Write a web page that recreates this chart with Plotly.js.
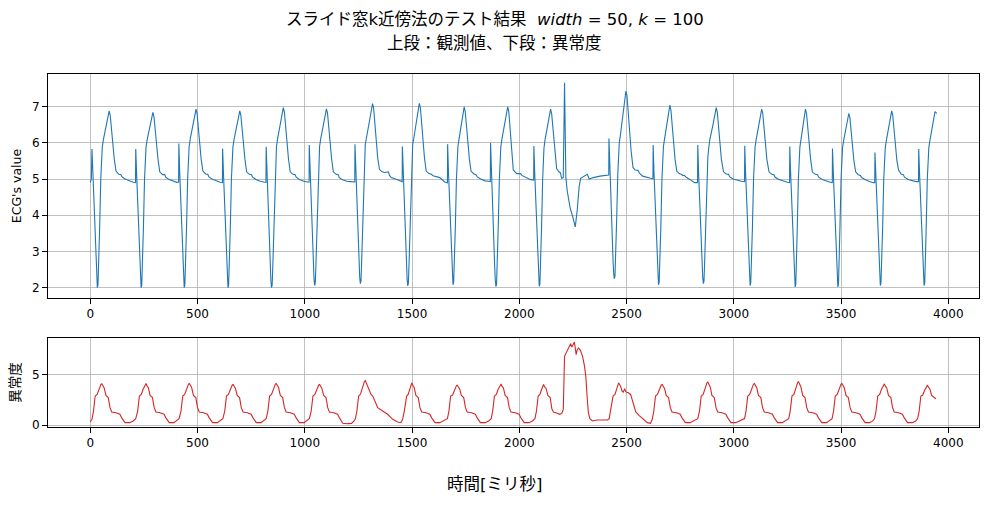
<!DOCTYPE html>
<html>
<head>
<meta charset="utf-8">
<script src="https://cdn.plot.ly/plotly-3.0.1.min.js"></script>
<style>html,body{margin:0;padding:0;background:#fff;}#chart{width:989px;height:505px;}</style>
</head>
<body>
<div id="chart"></div>
<script>
// ECG observed values (time in ms, value)
const ecgTime = [
0,5,8,12,17,22,27,30,33,36,39,44,49,52,56,61,75,88,93,98,105,112,120,133,143,148,163,183,200,211,
212,216,221,226,231,234,237,240,243,248,253,256,260,265,279,292,297,302,309,316,324,337,347,352,367,387,404,412,
413,417,422,427,432,435,438,441,444,449,454,457,461,466,480,493,498,503,510,517,525,538,548,553,568,588,605,616,
617,621,626,631,636,639,642,645,648,653,658,661,665,670,684,697,702,707,714,721,729,742,752,757,772,792,809,819,
820,824,829,834,839,842,845,848,851,856,861,864,868,873,887,900,905,910,917,924,932,945,955,960,975,995,1012,1020,
1021,1025,1030,1035,1040,1043,1046,1049,1052,1057,1062,1065,1069,1074,1088,1101,1106,1111,1118,1125,1133,1146,1156,1161,1176,1196,1213,1233,
1234,1238,1243,1248,1253,1256,1259,1262,1265,1270,1275,1278,1282,1287,1302,1316,1321,1326,1333,1340,1348,1360,1372,1390,1395,1403,1429,1447,1454,
1455,1459,1464,1469,1474,1477,1480,1483,1486,1491,1496,1499,1503,1508,1521,1534,1539,1544,1551,1558,1566,1579,1590,1598,1629,1652,1665,
1666,1670,1675,1680,1685,1688,1691,1694,1697,1702,1707,1710,1714,1719,1731,1743,1748,1753,1760,1767,1775,1788,1798,1804,1820,1840,1857,1865,
1866,1870,1875,1880,1885,1888,1891,1894,1897,1902,1907,1910,1914,1919,1932,1946,1951,1956,1963,1966,1972,1988,2000,2006,2012,2026,2050,2067,
2068,2072,2077,2082,2087,2090,2093,2096,2099,2104,2109,2112,2115,2120,2133,2146,2151,2156,2161,2167,2174,2185,2192,2197,2205,2211,2217,2223,2236,2249,2261,2270,2279,2286,2298,2310,2317,2326,2345,2376,2407,2417,
2418,2422,2427,2432,2437,2440,2443,2446,2449,2454,2459,2462,2466,2471,2484,2497,2502,2507,2514,2521,2530,2540,2553,2560,2575,2595,2612,2623,
2624,2628,2633,2638,2643,2646,2649,2652,2655,2660,2665,2668,2672,2677,2690,2702,2707,2712,2719,2726,2734,2745,2755,2762,2770,2778,2795,2817,2831,
2832,2836,2841,2846,2852,2855,2858,2861,2864,2869,2875,2879,2883,2888,2903,2918,2923,2928,2935,2942,2952,2965,2975,2981,2997,3017,3035,3050,
3051,3055,3060,3065,3070,3073,3076,3079,3082,3087,3092,3095,3099,3104,3117,3130,3135,3140,3147,3154,3164,3177,3187,3193,3210,3230,3250,3260,
3261,3265,3270,3275,3280,3283,3286,3289,3292,3296,3301,3304,3308,3313,3323,3334,3339,3344,3351,3358,3366,3380,3390,3396,3412,3432,3450,3459,
3460,3464,3469,3474,3479,3482,3485,3488,3491,3495,3500,3503,3507,3512,3524,3536,3541,3546,3553,3560,3568,3580,3590,3596,3612,3632,3650,3657,
3658,3662,3667,3672,3677,3680,3683,3686,3689,3694,3699,3702,3706,3711,3724,3736,3741,3746,3753,3760,3768,3780,3790,3796,3812,3832,3850,3861,
3862,3866,3871,3876,3881,3884,3887,3890,3893,3897,3902,3905,3909,3914,3926,3938,3942,3946
];
const ecgValue = [
4.91,5.0,5.83,5.15,4.3,3.5,2.6,2.2,2.0,2.08,2.6,3.7,5.0,5.6,5.88,6.08,6.45,6.88,6.76,6.43,5.95,5.55,5.22,5.13,5.12,5.06,5.0,4.94,4.91,4.9,
5.83,5.15,4.3,3.5,2.6,2.2,2.0,2.08,2.6,3.7,5.0,5.6,5.88,6.08,6.43,6.84,6.72,6.4,5.93,5.54,5.2,5.12,5.13,5.05,4.99,4.94,4.91,4.92,
5.98,5.17,4.3,3.5,2.6,2.2,2.0,2.08,2.6,3.7,5.0,5.6,5.9,6.1,6.5,6.93,6.8,6.47,5.97,5.55,5.22,5.14,5.13,5.06,5.0,4.94,4.91,4.9,
5.84,5.15,4.3,3.5,2.6,2.2,2.0,2.08,2.6,3.7,5.0,5.6,5.88,6.08,6.47,6.88,6.76,6.43,5.95,5.55,5.2,5.13,5.12,5.05,4.99,4.94,4.92,4.91,
5.89,5.16,4.3,3.5,2.6,2.2,2.0,2.08,2.6,3.7,5.0,5.6,5.9,6.1,6.5,6.97,6.85,6.5,5.98,5.56,5.2,5.13,5.12,5.05,4.99,4.94,4.92,4.92,
5.94,5.17,4.3,3.5,2.65,2.25,2.06,2.14,2.65,3.7,5.0,5.6,5.9,6.1,6.5,6.94,6.82,6.48,5.97,5.56,5.2,5.13,5.12,5.04,4.98,4.94,4.93,4.92,
5.96,5.17,4.3,3.5,2.7,2.3,2.11,2.18,2.7,3.75,5.0,5.65,5.95,6.12,6.6,7.08,6.95,6.58,6.05,5.58,5.27,5.2,5.18,5.2,5.1,5.04,4.99,4.95,4.93,
5.9,5.17,4.3,3.5,2.65,2.25,2.05,2.13,2.65,3.7,5.0,5.65,5.95,6.12,6.6,7.09,6.96,6.6,6.05,5.58,5.22,5.15,5.13,5.09,5.04,4.92,4.9,
5.96,5.17,4.3,3.5,2.65,2.25,2.08,2.15,2.65,3.7,5.0,5.6,5.9,6.1,6.5,6.99,6.87,6.52,6.0,5.57,5.22,5.14,5.12,5.06,5.0,4.95,4.94,4.93,
6.0,5.18,4.3,3.5,2.62,2.22,2.03,2.1,2.62,3.7,5.0,5.6,5.9,6.1,6.5,6.99,6.87,6.52,6.0,5.6,5.25,5.15,5.14,5.15,5.1,5.06,4.99,4.97,
5.91,5.15,4.3,3.5,2.62,2.22,2.04,2.1,2.62,3.7,5.0,5.6,5.85,6.08,6.5,6.93,6.8,6.45,6.0,5.55,5.29,5.2,5.17,5.02,5.04,7.66,5.06,4.69,4.23,3.96,3.68,4.14,4.79,5.02,5.06,5.1,5.13,5.0,5.04,5.08,5.11,5.11,
6.12,5.25,4.4,3.5,2.75,2.4,2.25,2.32,2.8,3.9,5.1,5.7,6.0,6.2,6.8,7.43,7.3,6.9,6.3,5.8,5.32,5.25,5.24,5.16,5.08,5.04,5.02,5.01,
5.94,5.15,4.3,3.5,2.65,2.25,2.08,2.15,2.65,3.7,5.0,5.6,5.9,6.1,6.55,7.04,6.9,6.55,6.0,5.55,5.22,5.15,5.13,5.1,5.1,5.05,4.99,4.9,4.9,
5.94,5.15,4.3,3.5,2.7,2.3,2.11,2.18,2.7,3.75,5.0,5.6,5.85,6.08,6.5,6.97,6.85,6.5,6.0,5.55,5.2,5.14,5.13,5.06,5.0,4.96,4.94,4.93,
5.92,5.15,4.3,3.5,2.65,2.25,2.06,2.13,2.65,3.7,5.0,5.6,5.88,6.08,6.5,6.93,6.81,6.47,5.96,5.55,5.2,5.13,5.12,5.05,4.99,4.94,4.91,4.9,
5.9,5.15,4.3,3.5,2.6,2.2,2.02,2.1,2.6,3.7,5.0,5.6,5.88,6.08,6.5,6.93,6.81,6.47,5.96,5.55,5.2,5.13,5.12,5.05,4.99,4.94,4.91,4.9,
5.84,5.15,4.3,3.5,2.6,2.2,2.02,2.1,2.6,3.7,5.0,5.6,5.88,6.06,6.42,6.81,6.7,6.38,5.9,5.5,5.2,5.12,5.1,5.04,4.99,4.93,4.9,4.9,
5.73,5.12,4.3,3.5,2.65,2.25,2.06,2.13,2.65,3.7,5.0,5.6,5.86,6.06,6.47,6.88,6.76,6.43,5.95,5.52,5.25,5.14,5.12,5.05,4.99,4.95,4.93,4.93,
5.83,5.14,4.3,3.5,2.65,2.25,2.06,2.13,2.65,3.7,5.0,5.6,5.86,6.06,6.47,6.86,6.84,6.81
];

// Anomaly score (time in ms, score)
const scoreTime = [
0,8,15,23,32,40,50,54,59,65,73,84,92,100,120,138,146,162,184,200,212,
221,229,238,246,256,260,265,271,279,290,298,306,326,344,352,368,390,402,414,
423,431,440,448,458,462,467,473,481,492,500,508,528,546,554,570,592,606,618,
627,635,644,652,662,666,671,677,685,696,704,712,732,750,758,774,796,808,820,
828,836,845,853,863,867,872,878,886,897,905,913,933,951,959,975,997,1009,1021,
1030,1038,1047,1055,1065,1069,1074,1080,1088,1099,1107,1115,1135,1153,1161,1177,1200,1218,1230,1236,
1243,1251,1260,1268,1278,1282,1287,1294,1301,1309,1317,1329,1340,1363,1386,1410,1433,1448,1456,
1464,1475,1482,1489,1495,1499,1504,1510,1518,1529,1537,1545,1565,1583,1591,1607,1629,1645,1665,
1672,1680,1689,1697,1707,1711,1716,1722,1730,1741,1749,1757,1777,1795,1803,1819,1841,1857,1869,
1876,1884,1893,1901,1911,1915,1920,1926,1934,1945,1953,1961,1981,1999,2007,2023,2045,2061,2073,
2080,2088,2096,2103,2109,2113,2118,2125,2133,2144,2152,2160,2171,2189,2198,2205,2211,2220,2233,2239,2245,2251,2257,2262,2265,2270,2276,2285,2295,2304,2310,2316,2322,2329,2341,2364,2411,2419,
2426,2437,2446,2454,2463,2473,2479,2485,2491,2498,2508,2519,2530,2543,2558,2577,2597,2612,2620,
2627,2635,2644,2652,2662,2666,2671,2677,2685,2696,2704,2712,2732,2750,2758,2774,2796,2812,2832,
2840,2848,2857,2865,2875,2879,2884,2890,2898,2909,2917,2925,2945,2963,2971,2987,3009,3025,3050,
3057,3065,3074,3082,3092,3096,3101,3107,3115,3126,3134,3142,3162,3180,3188,3204,3226,3242,3256,
3263,3271,3280,3288,3298,3302,3307,3313,3321,3332,3340,3348,3368,3386,3394,3410,3432,3446,3458,
3465,3473,3482,3490,3500,3504,3509,3515,3523,3534,3542,3550,3570,3588,3596,3612,3634,3648,3656,
3663,3671,3680,3688,3698,3702,3707,3713,3721,3732,3740,3748,3768,3786,3794,3810,3832,3848,3857,
3864,3872,3881,3889,3899,3903,3908,3914,3922,3933,3942
];
const scoreValue = [
0.33,0.59,1.41,2.9,3.06,3.55,4.06,4.11,3.85,3.7,2.96,2.75,1.75,1.32,1.25,1.09,0.76,0.26,0.26,0.43,0.66,
1.41,2.9,3.06,3.55,4.09,4.14,3.88,3.72,2.96,2.75,1.75,1.32,1.25,1.09,0.76,0.26,0.26,0.43,0.66,
1.41,2.9,3.06,3.55,4.09,4.14,3.88,3.72,2.96,2.75,1.75,1.32,1.25,1.09,0.76,0.26,0.26,0.43,0.66,
1.41,2.9,3.06,3.5,4.0,4.05,3.8,3.65,2.96,2.75,1.75,1.32,1.25,1.09,0.76,0.26,0.26,0.43,0.66,
1.41,2.9,3.06,3.55,4.09,4.14,3.88,3.72,2.96,2.75,1.75,1.32,1.25,1.09,0.76,0.26,0.26,0.43,0.66,
1.41,2.9,3.06,3.5,4.0,4.05,3.8,3.65,2.96,2.75,1.75,1.32,1.25,1.09,0.76,0.2,0.16,0.18,0.43,0.66,
1.41,2.9,3.1,3.7,4.35,4.44,4.2,3.8,3.55,3.06,2.9,2.24,1.74,1.41,1.09,0.59,0.33,0.26,0.59,
1.41,2.9,3.06,3.6,4.15,4.21,3.95,3.75,2.96,2.75,1.75,1.32,1.25,1.09,0.76,0.26,0.26,0.43,0.66,
1.41,2.9,3.0,3.45,3.93,3.98,3.75,3.6,2.96,2.75,1.75,1.32,1.25,1.09,0.76,0.26,0.26,0.43,0.66,
1.41,2.9,3.06,3.55,4.05,4.1,3.85,3.7,2.96,2.75,1.75,1.32,1.25,1.09,0.76,0.26,0.26,0.43,0.66,
1.41,2.9,3.06,3.5,4.0,4.05,3.8,3.65,2.96,2.75,1.6,1.3,1.25,1.09,1.18,1.58,6.84,7.24,7.66,8.09,7.76,8.0,8.25,7.5,7.0,7.5,7.66,7.43,6.84,5.86,4.87,2.9,1.25,0.66,0.43,0.53,0.53,0.66,
1.41,2.9,3.06,3.72,4.21,3.82,3.39,3.29,3.62,3.29,3.22,3.06,2.24,1.32,0.99,0.66,0.26,0.2,0.59,
1.41,2.9,3.06,3.5,4.0,4.05,3.8,3.65,2.96,2.75,1.75,1.32,1.25,1.09,0.76,0.26,0.26,0.43,0.66,
1.41,2.9,3.06,3.65,4.22,4.28,4.0,3.8,2.96,2.75,1.75,1.32,1.25,1.09,0.76,0.26,0.26,0.43,0.66,
1.41,2.9,3.06,3.55,4.09,4.14,3.88,3.72,2.96,2.75,1.75,1.32,1.25,1.09,0.76,0.26,0.26,0.43,0.66,
1.41,2.9,3.06,3.7,4.25,4.31,4.02,3.8,2.96,2.75,1.75,1.32,1.25,1.09,0.76,0.26,0.26,0.43,0.66,
1.41,2.9,3.06,3.55,4.09,4.14,3.88,3.72,2.96,2.75,1.75,1.32,1.25,1.09,0.76,0.26,0.26,0.43,0.66,
1.41,2.9,3.06,3.55,4.06,4.11,3.85,3.7,2.96,2.75,1.75,1.32,1.25,1.09,0.76,0.26,0.26,0.43,0.66,
1.41,2.9,3.0,3.45,3.93,3.98,3.75,3.6,2.96,2.8,2.63
];

const xTicks = [0,500,1000,1500,2000,2500,3000,3500,4000];
const ecgTicks = [2,3,4,5,6,7];
const scoreTicks = [0,5];

const titleLine1 = "スライド窓k近傍法のテスト結果  <i>width</i> = 50, <i>k</i> = 100";
const titleLine2 = "上段：観測値、下段：異常度";
const xLabel = "時間[ミリ秒]";

const FONT = "DejaVu Sans, Noto Sans CJK JP, sans-serif";

const axisCommon = {
  showline: true, mirror: true, linecolor: "#000", linewidth: 1,
  showgrid: true, gridcolor: "#b0b0b0", gridwidth: 0.8,
  zeroline: false, ticks: "outside", ticklen: 5, tickwidth: 1, tickcolor: "#000",
  tickfont: {family: FONT, size: 12, color: "#000"}
};

const traces = [
  {x: ecgTime, y: ecgValue, type: "scatter", mode: "lines", xaxis: "x", yaxis: "y",
   line: {color: "#1f77b4", width: 1.1}, hoverinfo: "skip"},
  {x: scoreTime, y: scoreValue, type: "scatter", mode: "lines", xaxis: "x2", yaxis: "y2",
   line: {color: "#d62728", width: 1.1}, hoverinfo: "skip"}
];

const layout = {
  width: 989, height: 505,
  margin: {l: 48, r: 10, t: 74, b: 78},
  paper_bgcolor: "#fff", plot_bgcolor: "#fff",
  showlegend: false,
  font: {family: FONT, color: "#000"},
  xaxis: Object.assign({}, axisCommon, {anchor: "y", domain: [0, 1], range: [-197, 4143],
    tickmode: "array", tickvals: xTicks, ticktext: xTicks.map(String)}),
  yaxis: Object.assign({}, axisCommon, {anchor: "x", domain: [0.3654, 1], range: [1.716, 7.9],
    tickmode: "array", tickvals: ecgTicks, ticktext: ecgTicks.map(String),
    title: {text: "ECG's value", font: {family: FONT, size: 12.5, color: "#000"}, standoff: 7}}),
  xaxis2: Object.assign({}, axisCommon, {anchor: "y2", domain: [0, 1], range: [-197, 4143],
    tickmode: "array", tickvals: xTicks, ticktext: xTicks.map(String)}),
  yaxis2: Object.assign({}, axisCommon, {anchor: "x2", domain: [0, 0.252], range: [-0.17, 8.65],
    tickmode: "array", tickvals: scoreTicks, ticktext: scoreTicks.map(String),
    title: {text: "異常度", font: {family: FONT, size: 13.5, color: "#000"}, standoff: 8}}),
  annotations: [
    {text: titleLine1, xref: "paper", yref: "paper", x: 0.4796, y: 1.153, xanchor: "center", yanchor: "middle",
     showarrow: false, font: {family: FONT, size: 16.5, color: "#000"}},
    {text: titleLine2, xref: "paper", yref: "paper", x: 0.4796, y: 1.085, xanchor: "center", yanchor: "middle",
     showarrow: false, font: {family: FONT, size: 16.5, color: "#000"}},
    {text: xLabel, xref: "paper", yref: "paper", x: 0.4796, y: -0.164, xanchor: "center", yanchor: "middle",
     showarrow: false, font: {family: FONT, size: 16.5, color: "#000"}}
  ]
};

Plotly.newPlot("chart", traces, layout, {displayModeBar: false, staticPlot: true});
</script>
</body>
</html>
